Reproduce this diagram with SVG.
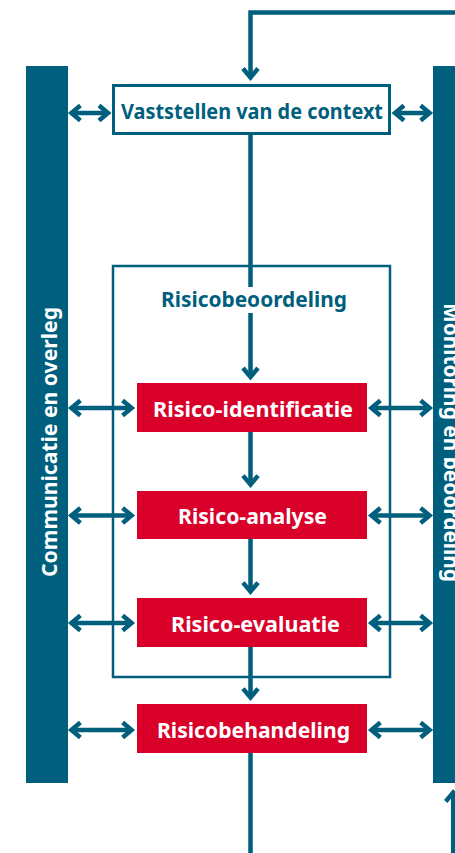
<svg xmlns="http://www.w3.org/2000/svg" width="455" height="853" viewBox="0 0 455 853">
<style>
.bar{fill:#005f7d}
.red{fill:#d9002a}
.wt{fill:#ffffff;font-family:"Noto Sans","Open Sans","DejaVu Sans",sans-serif;font-weight:bold;font-size:21px}
.tt{fill:#005f7d;font-family:"Noto Sans","Open Sans","DejaVu Sans",sans-serif;font-weight:bold;font-size:21px}
.ln{fill:none;stroke:#005f7d;stroke-width:4.5}
.arr{marker-end:url(#ah)}
.dbl{marker-start:url(#ah);marker-end:url(#ah)}
</style>
<defs>
<marker id="ah" markerUnits="userSpaceOnUse" markerWidth="24" markerHeight="24" viewBox="-14 -12 24 24" refX="0" refY="0" orient="auto-start-reverse" overflow="visible">
<path d="M-9,-7.5 L0,0 L-9,7.5" fill="none" stroke="#005f7d" stroke-width="4.5"/>
</marker>
</defs>

<g id="communicatie">
<rect class="bar" x="26" y="66" width="42" height="717"/>
<text class="wt" transform="translate(57,577) rotate(-90)" textLength="270" lengthAdjust="spacingAndGlyphs" style="font-size:22px">Communicatie en overleg</text>
</g>
<g id="monitoring">
<rect class="bar" x="433" y="66" width="42" height="717"/>
<text class="wt" transform="translate(444,303) rotate(90)" textLength="279" lengthAdjust="spacingAndGlyphs" style="font-size:22px">Monitoring en beoordeling</text>
</g>

<g id="risicobeoordeling">
<rect x="113" y="266" width="277" height="411" fill="none" stroke="#005f7d" stroke-width="2.5"/>
<text class="tt" x="161" y="307" textLength="186" lengthAdjust="spacingAndGlyphs">Risicobeoordeling</text>
</g>

<g id="connectors">
<path class="ln arr" d="M455,12.5 H250.5 V77.5"/>
<path class="ln" d="M250.5,135 V287"/>
<path class="ln arr" d="M250.5,313 V377"/>
<path class="ln arr" d="M250.5,432 V484.6"/>
<path class="ln arr" d="M250.5,539 V591.6"/>
<path class="ln arr" d="M250.5,647 V697.6"/>
<path class="ln" d="M250.5,753 V853"/>
<path class="ln dbl" d="M71.4,113 H108"/>
<path class="ln dbl" d="M395,113 H429.6"/>
<path class="ln dbl" d="M71.4,408 H131.6"/>
<path class="ln dbl" d="M371.4,408 H429.6"/>
<path class="ln dbl" d="M71.4,515.5 H131.6"/>
<path class="ln dbl" d="M371.4,515.5 H429.6"/>
<path class="ln dbl" d="M71.4,623 H131.6"/>
<path class="ln dbl" d="M371.4,623 H429.6"/>
<path class="ln dbl" d="M71.4,730 H131.6"/>
<path class="ln dbl" d="M371.4,730 H429.6"/>
<path class="ln arr" d="M453.2,853 V792.5"/>
</g>

<g id="context">
<rect x="113.5" y="85.5" width="276" height="48" fill="#ffffff" stroke="#005f7d" stroke-width="3"/>
<text class="tt" x="121" y="119" textLength="262" lengthAdjust="spacingAndGlyphs">Vaststellen van de context</text>
</g>
<g id="identificatie">
<rect class="red" x="137" y="383" width="230" height="49"/>
<text class="wt" x="153" y="417" textLength="200" lengthAdjust="spacingAndGlyphs">Risico-identificatie</text>
</g>
<g id="analyse">
<rect class="red" x="137" y="491" width="230" height="48"/>
<text class="wt" x="178" y="524" textLength="149" lengthAdjust="spacingAndGlyphs">Risico-analyse</text>
</g>
<g id="evaluatie">
<rect class="red" x="137" y="598" width="230" height="49"/>
<text class="wt" x="171" y="632" textLength="169" lengthAdjust="spacingAndGlyphs">Risico-evaluatie</text>
</g>
<g id="behandeling">
<rect class="red" x="137" y="704" width="230" height="49"/>
<text class="wt" x="157" y="738" textLength="193" lengthAdjust="spacingAndGlyphs">Risicobehandeling</text>
</g>
</svg>
